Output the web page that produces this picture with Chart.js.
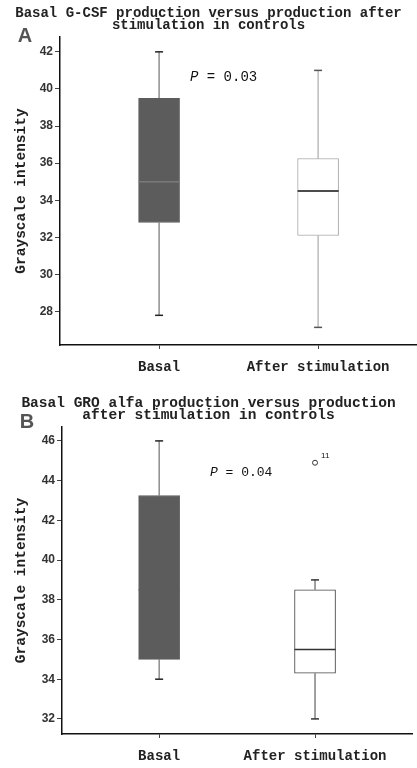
<!DOCTYPE html>
<html>
<head>
<meta charset="utf-8">
<script src="https://cdn.jsdelivr.net/npm/chart.js@4.4.1/dist/chart.umd.min.js"></script>
<style>
  body { margin: 0; background: #fff; }
  .panel { position: relative; width: 417px; height: 384px; }
</style>
</head>
<body>
<div class="panel"><canvas id="chartA"></canvas></div>
<div class="panel"><canvas id="chartB"></canvas></div>
<script>
const groups = ['Basal', 'After stimulation'];

// Panel A - G-CSF
const gcsfMin = [27.8, 27.15];
const gcsfQ1 = [32.8, 32.1];
const gcsfMedian = [35.0, 34.5];
const gcsfQ3 = [39.5, 36.25];
const gcsfMax = [42.0, 41.0];
const gcsfTicks = [28, 30, 32, 34, 36, 38, 40, 42];

// Panel B - GRO alfa
const groMin = [34.0, 32.0];
const groQ1 = [35.0, 34.3];
const groMedian = [38.5, 35.5];
const groQ3 = [43.25, 38.5];
const groMax = [46.0, 39.0];
const groTicks = [32, 34, 36, 38, 40, 42, 44, 46];
const groOutlierGroup = [1];
const groOutlierValue = [44.9];
const groOutlierCase = ['11'];

const MONO = "'Liberation Mono', 'DejaVu Sans Mono', monospace";
const SANS = "'Liberation Sans', Arial, sans-serif";

function line(ctx, x1, y1, x2, y2) {
    ctx.beginPath();
    ctx.moveTo(x1, y1);
    ctx.lineTo(x2, y2);
    ctx.stroke();
}

// whiskers, caps, medians and panel annotations
function boxPlotPlugin(cfg) {
    return {
        id: 'boxPlot' + cfg.letter,
        afterDatasetsDraw(chart) {
            const ctx = chart.ctx;
            const xs = chart.scales.x, ys = chart.scales.y;
            const half = 20.5, cap = 4;
            ctx.save();
            groups.forEach((g, i) => {
                const cx = xs.getPixelForValue(i);
                const yMin = ys.getPixelForValue(cfg.min[i]);
                const yQ1 = ys.getPixelForValue(cfg.q1[i]);
                const yMed = ys.getPixelForValue(cfg.median[i]);
                const yQ3 = ys.getPixelForValue(cfg.q3[i]);
                const yMax = ys.getPixelForValue(cfg.max[i]);

                ctx.strokeStyle = cfg.whiskerColor[i];
                ctx.lineWidth = 1;
                line(ctx, cx, yQ3, cx, yMax);
                line(ctx, cx, yQ1, cx, yMin);

                ctx.strokeStyle = cfg.capColor[i];
                ctx.lineWidth = 1.5;
                line(ctx, cx - cap, yMax, cx + cap, yMax);
                line(ctx, cx - cap, yMin, cx + cap, yMin);

                ctx.strokeStyle = cfg.medianColor[i];
                ctx.lineWidth = 1.5;
                line(ctx, cx - half, yMed, cx + half, yMed);
            });

            // panel letter
            ctx.fillStyle = '#555';
            ctx.font = 'bold 20px ' + SANS;
            ctx.textAlign = 'center';
            ctx.textBaseline = 'middle';
            ctx.fillText(cfg.letter, cfg.letterPos.x, cfg.letterPos.y);

            // P value
            ctx.fillStyle = '#111';
            ctx.textAlign = 'left';
            ctx.font = 'italic ' + cfg.pSize + 'px ' + MONO;
            ctx.fillText('P', cfg.pPos.x, cfg.pPos.y);
            const w = ctx.measureText('P').width;
            ctx.font = cfg.pSize + 'px ' + MONO;
            ctx.fillText(' = ' + cfg.pValue, cfg.pPos.x + w, cfg.pPos.y);

            // outlier case labels
            if (cfg.outliers) {
                ctx.font = '8px ' + SANS;
                cfg.outliers.group.forEach((gi, k) => {
                    const px = xs.getPixelForValue(gi);
                    const py = ys.getPixelForValue(cfg.outliers.value[k]);
                    ctx.fillText(cfg.outliers.label[k], px + 6, py - 7);
                });
            }
            ctx.restore();
        }
    };
}

function makeChart(id, cfg) {
    const datasets = [{
        type: 'bar',
        data: groups.map((g, i) => ({ x: i, y: [cfg.q1[i], cfg.q3[i]] })),
        backgroundColor: cfg.fill,
        borderColor: cfg.border,
        borderWidth: 1,
        borderSkipped: false,
        barThickness: 41
    }];
    if (cfg.outliers) {
        datasets.push({
            type: 'scatter',
            data: cfg.outliers.group.map((gi, k) => ({ x: gi, y: cfg.outliers.value[k] })),
            pointStyle: 'circle',
            pointRadius: 2.5,
            pointBorderWidth: 1,
            pointBorderColor: '#333',
            pointBackgroundColor: '#fff'
        });
    }

    return new Chart(document.getElementById(id), {
        type: 'bar',
        data: { datasets },
        options: {
            responsive: true,
            maintainAspectRatio: false,
            animation: false,
            layout: { padding: 0 },
            plugins: {
                legend: { display: false },
                tooltip: { enabled: false },
                title: {
                    display: true,
                    text: cfg.title,
                    color: '#222',
                    font: { family: MONO, size: cfg.titleSize, weight: 'bold', lineHeight: 12.5 / cfg.titleSize },
                    padding: cfg.titlePadding
                }
            },
            scales: {
                x: {
                    type: 'linear',
                    offset: false,
                    min: -0.623,
                    max: 1.622,
                    afterBuildTicks: scale => { scale.ticks = groups.map((g, i) => ({ value: i })); },
                    afterFit: scale => { scale.height = cfg.xHeight; },
                    ticks: {
                        callback: v => groups[v],
                        color: '#222',
                        font: { family: MONO, size: 14, weight: 'bold' },
                        padding: 10,
                        maxRotation: 0,
                        autoSkip: false
                    },
                    grid: { display: true, offset: false, drawOnChartArea: false, drawTicks: true, tickLength: 4, color: '#444' },
                    border: { display: true, color: '#111', width: 1.5 }
                },
                y: {
                    min: cfg.yMin,
                    max: cfg.yMax,
                    afterBuildTicks: scale => { scale.ticks = cfg.ticks.map(v => ({ value: v })); },
                    afterFit: scale => { scale.width = cfg.yWidth; },
                    ticks: {
                        color: '#333',
                        font: { family: SANS, size: 12, weight: 'bold' },
                        padding: 2
                    },
                    grid: { display: true, drawOnChartArea: false, drawTicks: true, tickLength: 5, color: '#444' },
                    border: { display: true, color: '#111', width: 1.5 },
                    title: {
                        display: true,
                        text: 'Grayscale intensity',
                        color: '#222',
                        font: { family: MONO, size: 14.5, weight: 'bold' },
                        padding: { top: 13, bottom: 0 }
                    }
                }
            }
        },
        plugins: [boxPlotPlugin(cfg)]
    });
}

makeChart('chartA', {
    letter: 'A',
    title: ['Basal G-CSF production versus production after', 'stimulation in controls'],
    titleSize: 14,
    titlePadding: { top: 7, bottom: 5 },
    min: gcsfMin, q1: gcsfQ1, median: gcsfMedian, q3: gcsfQ3, max: gcsfMax,
    ticks: gcsfTicks,
    yMin: 26.2, yMax: 42.8,
    yWidth: 60, xHeight: 39,
    fill: ['#5c5c5c', '#ffffff'],
    border: ['#5c5c5c', '#a8a8a8'],
    whiskerColor: ['#555', '#999'],
    capColor: ['#222', '#555'],
    medianColor: ['#7a7a7a', '#111'],
    letterPos: { x: 25, y: 36 },
    pPos: { x: 190, y: 77 },
    pSize: 14,
    pValue: '0.03'
});

makeChart('chartB', {
    letter: 'B',
    title: ['Basal GRO alfa production versus production', 'after stimulation in controls'],
    titleSize: 14.5,
    titlePadding: { top: 13, bottom: 5 },
    min: groMin, q1: groQ1, median: groMedian, q3: groQ3, max: groMax,
    ticks: groTicks,
    yMin: 31.24, yMax: 46.7,
    yWidth: 62, xHeight: 34,
    fill: ['#5c5c5c', '#ffffff'],
    border: ['#5c5c5c', '#444'],
    whiskerColor: ['#555', '#444'],
    capColor: ['#222', '#333'],
    medianColor: ['#5c5c5c', '#333'],
    letterPos: { x: 27, y: 38 },
    pPos: { x: 210, y: 89 },
    pSize: 13,
    pValue: '0.04',
    outliers: { group: groOutlierGroup, value: groOutlierValue, label: groOutlierCase }
});
</script>
</body>
</html>
